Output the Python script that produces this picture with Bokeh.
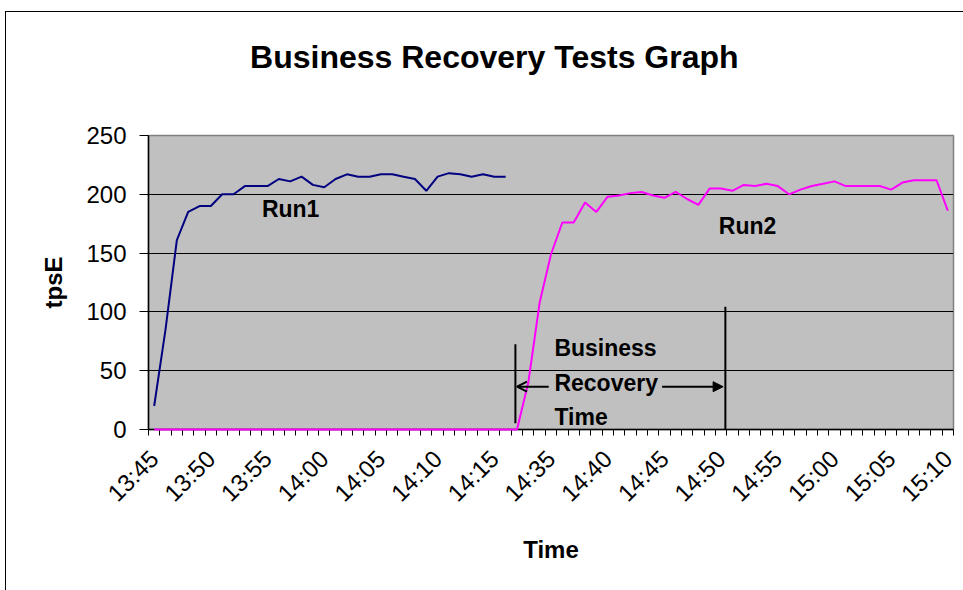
import math
from bokeh.plotting import figure
from bokeh.models import (Range1d, FixedTicker, Label, Arrow, OpenHead, NormalHead,
                          ColumnDataSource, LinearAxis, InlineStyleSheet)
from bokeh.embed import file_html
from bokeh.resources import INLINE

# ---- data ----
times = (["13:%02d" % m for m in range(45, 60)] +
         ["14:%02d" % m for m in range(0, 17)] +
         ["14:32", "14:33", "14:34"] +
         ["14:%02d" % m for m in range(35, 60)] +
         ["15:%02d" % m for m in range(0, 11)])
run1 = [20, 85, 161, 185, 190, 190, 200, 200, 207, 207, 207, 213, 211, 215, 208, 206,
        213, 217, 215, 215, 217, 217, 215, 213, 203, 215, 218, 217, 215, 217, 215, 215]
run2 = ([0] * 33 +
        [40, 108, 149, 176, 176, 193, 185, 198, 199, 201, 202, 199, 197, 202, 196, 191,
         205, 205, 203, 208, 207, 209, 207, 200, 204, 207, 209, 211, 207, 207, 207, 207,
         204, 210, 212, 212, 212, 186])
y_ticks = [0, 50, 100, 150, 200, 250]
label_every = 5
title_text = "Business Recovery Tests Graph"

FONT = "Liberation Sans"
W, H = 963, 590

border_css = InlineStyleSheet(css="""
:host { position: relative; }
:host::after {
  content: ''; position: absolute; left: 5px; top: 11px; width: 958px; height: 579px;
  border-left: 1.5px solid black; border-top: 1.5px solid black;
  box-sizing: border-box; pointer-events: none; z-index: 100;
}
""")

p = figure(width=W, height=H, output_backend="svg", toolbar_location=None,
           x_range=Range1d(-0.5, len(times) - 0.5), y_range=Range1d(0, 250),
           min_border_left=148, min_border_right=10, min_border_top=135,
           min_border_bottom=161, background_fill_color="#C0C0C0",
           border_fill_color="white", outline_line_color="#808080",
           outline_line_width=1.5)
p.stylesheets = [border_css]

src1 = ColumnDataSource(dict(x=list(range(len(run1))), y=run1))
src2 = ColumnDataSource(dict(x=list(range(len(run2))), y=run2))
p.line("x", "y", source=src1, line_color="#000080", line_width=2)
r2 = p.line("x", "y", source=src2, line_color="#FF00FF", line_width=2)
r2.level = "annotation"

# axes
major = list(range(0, len(times), label_every))
p.xaxis.ticker = FixedTicker(ticks=major,
                             minor_ticks=[i - 0.5 for i in range(len(times) + 1)])
p.xaxis.major_label_overrides = {i: times[i] for i in major}
p.xaxis.major_label_orientation = math.pi / 4
p.xaxis.major_tick_out = 0
p.xaxis.major_tick_in = 0
p.xaxis.minor_tick_out = 6
p.xaxis.minor_tick_in = 0
p.yaxis.ticker = FixedTicker(ticks=y_ticks)
p.yaxis.major_tick_out = 9
p.yaxis.major_tick_in = 0
p.yaxis.minor_tick_out = 0
p.yaxis.minor_tick_in = 0
for ax in (p.xaxis, p.yaxis):
    ax.axis_line_color = "black"
    ax.axis_line_width = 1.5
    ax.major_tick_line_color = "black"
    ax.minor_tick_line_color = "black"
    ax.major_label_text_font = FONT
    ax.major_label_text_font_size = "24px"
    ax.major_label_text_color = "black"
    ax.axis_label_text_font = FONT
    ax.axis_label_text_font_size = "24px"
    ax.axis_label_text_font_style = "bold"
    ax.axis_label_text_color = "black"
p.xaxis.axis_label = "Time"
p.yaxis.axis_label = "tpsE"
p.xaxis.major_label_standoff = 19
p.yaxis.major_label_standoff = 13
p.xaxis.axis_label_standoff = 17
p.yaxis.axis_label_standoff = 16

p.xgrid.visible = False
p.ygrid.ticker = FixedTicker(ticks=[50, 100, 150, 200])
p.ygrid.grid_line_color = "black"
p.ygrid.grid_line_width = 1

# title drawn as the single label of an invisible top axis
title_axis = LinearAxis(ticker=FixedTicker(ticks=[30], minor_ticks=[]),
                        major_label_overrides={30: title_text},
                        axis_line_color=None, major_tick_line_color=None,
                        minor_tick_line_color=None, major_tick_out=0, major_tick_in=0,
                        minor_tick_out=0, minor_tick_in=0,
                        major_label_standoff=61, major_label_text_font=FONT,
                        major_label_text_font_size="32px",
                        major_label_text_font_style="bold",
                        major_label_text_color="black")
p.add_layout(title_axis, "above")

# text annotations
def lab(x, y, t):
    p.add_layout(Label(x=x, y=y, text=t, text_font=FONT, text_font_size="23px",
                       text_font_style="bold", text_align="left",
                       text_baseline="alphabetic", text_color="black"))

lab(9.5, 187.6, "Run1")
lab(49.8, 172.7, "Run2")
lab(35.3, 69.7, "Business")
lab(35.3, 39.2, "Recovery")
lab(35.3, 10.4, "Time")

# recovery markers
p.add_layout(Arrow(end=None, x_start=31.86, y_start=5.3, x_end=31.86, y_end=72.5,
                   line_color="black", line_width=2))
p.add_layout(Arrow(end=None, x_start=50.38, y_start=-6.5, x_end=50.38, y_end=104.4,
                   line_color="black", line_width=2))
p.add_layout(Arrow(end=OpenHead(size=10, line_width=2, line_color="black"),
                   x_start=34.8, y_start=36.4, x_end=32.0, y_end=36.4,
                   line_color="black", line_width=2))
p.add_layout(Arrow(end=NormalHead(size=10, fill_color="black", line_color="black"),
                   x_start=44.8, y_start=36.4, x_end=50.18, y_end=36.4,
                   line_color="black", line_width=2))

open("out.html", "w").write(file_html(p, INLINE))
